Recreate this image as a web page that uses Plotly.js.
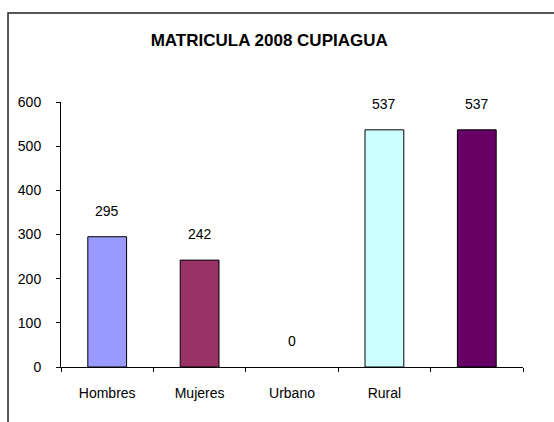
<!DOCTYPE html>
<html>
<head>
<meta charset="utf-8">
<script src="https://cdn.plot.ly/plotly-3.0.1.min.js"></script>
<style>html,body{margin:0;padding:0;background:#fff;}#chart{width:554px;height:422px;}</style>
</head>
<body>
<div id="chart"></div>
<script>
var categories = ["Hombres", "Mujeres", "Urbano", "Rural", " "];
var values = [295, 242, 0, 537, 537];
var barColors = ["#9999FF", "#993366", "#FFFFFF", "#CCFFFF", "#660066"];
var valueLabels = ["295", "242", "0", "537", "537"];
var yTicks = [0, 100, 200, 300, 400, 500, 600];

var FONT = "'Liberation Sans', Arial, sans-serif";

var trace = {
  type: "bar",
  x: categories,
  y: values,
  width: 0.42,
  marker: {color: barColors, line: {color: "#000000", width: values.map(function (v) { return v > 0 ? 1 : 0; })}},
  hoverinfo: "none"
};

var annotations = categories.map(function (c, i) {
  return {
    x: c, y: values[i], xref: "x", yref: "y",
    text: valueLabels[i], showarrow: false,
    yanchor: "bottom", yshift: 16,
    font: {family: FONT, size: 14, color: "#000"}
  };
});

var layout = {
  width: 554, height: 422,
  margin: {l: 61, r: 31, t: 102, b: 55, pad: 0},
  paper_bgcolor: "#ffffff", plot_bgcolor: "#ffffff",
  showlegend: false,
  title: {text: "<b>MATRICULA 2008 CUPIAGUA</b>", font: {family: FONT, size: 17, color: "#000"},
          x: 0.486, xanchor: "center", y: 0.905, yanchor: "middle"},
  xaxis: {
    type: "category", showgrid: false, zeroline: false,
    showline: true, linecolor: "#000", linewidth: 1,
    ticks: "outside", tickson: "boundaries", ticklen: 4, tickcolor: "#000",
    tickfont: {family: FONT, size: 14, color: "#000"},
    ticklabelstandoff: 13
  },
  yaxis: {
    range: [0, 600], tickvals: yTicks, showgrid: false, zeroline: false,
    showline: true, linecolor: "#000", linewidth: 1,
    ticks: "outside", ticklen: 4, tickcolor: "#000",
    tickfont: {family: FONT, size: 14, color: "#000"},
    ticklabelstandoff: 12
  },
  annotations: annotations,
  shapes: [{
    type: "rect", xref: "paper", yref: "paper",
    x0: -0.1147, x1: 1.3, y0: -0.4, y1: 1.3358,
    line: {color: "#222", width: 1.5}, fillcolor: "rgba(0,0,0,0)", layer: "below"
  }]
};

Plotly.newPlot("chart", [trace], layout, {displayModeBar: false, staticPlot: true});
</script>
</body>
</html>
